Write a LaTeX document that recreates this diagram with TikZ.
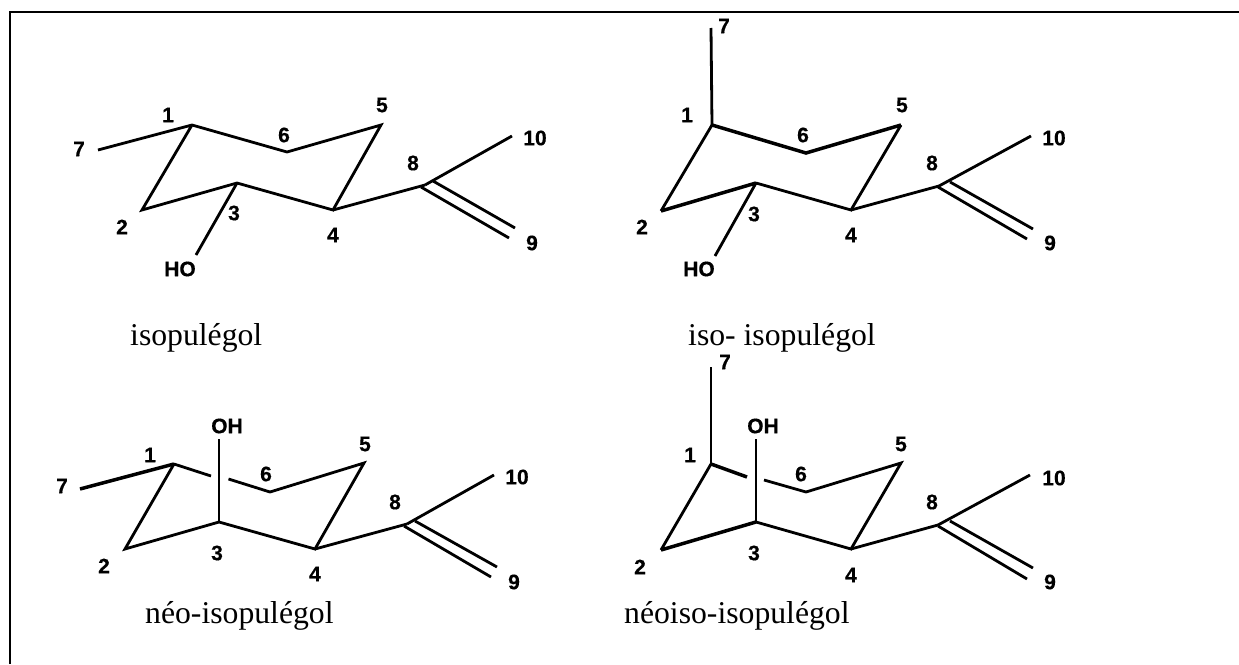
\documentclass[tikz,border=0pt]{standalone}
\usepackage{fontspec}
\setmainfont{Liberation Serif}
\newfontfamily\labelfont{Liberation Sans}[BoldFont={Liberation Sans Bold},BoldFeatures={FakeBold=0.5}]
\begin{document}
\begin{tikzpicture}[x=1pt,y=-1pt,
  bond/.style={line width=2.8pt,line cap=butt,line join=miter},
  heavy/.style={line width=3.5pt,line cap=butt,line join=miter},
  frameline/.style={line width=2.6pt,line cap=butt,line join=miter},
  atom/.style={inner sep=0pt,font=\labelfont\bfseries\fontsize{21}{21}\selectfont},
  caption/.style={inner sep=0pt,anchor=base west,font=\fontsize{31.7}{32}\selectfont}]
\useasboundingbox (0,0) rectangle (1239,664);
% frame
\coordinate (fa) at (10,664);
\coordinate (fb) at (10,12);
\coordinate (fc) at (1239,12);
\draw[frameline] (fa) -- (fb) -- (fc);
% ---- isopulegol
\foreach \n/\x/\y in {a1/192/125,a2/142/210,a3/237/183,a4/333/210,a5/381/125,a6/287/152,a7/98/150,aho/196/255,a8/425/185,a10/512/136,au/433/181,aue/515/228,al/421/187,ale/509/238}
  \coordinate (\n) at (\x,\y);
\draw[bond] (a7) -- (a1) -- (a6) -- (a5) -- (a4) -- (a3) -- (a2) -- (a1);
\draw[bond] (a3) -- (aho);
\draw[bond] (a4) -- (a8);
\draw[bond] (a8) -- (a10);
\draw[bond] (au) -- (aue);
\draw[bond] (al) -- (ale);
\node[atom] (la1) at (168,115) {1};
\node[atom] (la2) at (122,227) {2};
\node[atom] (la3) at (234,213) {3};
\node[atom] (la4) at (333,235) {4};
\node[atom] (la5) at (382,105) {5};
\node[atom] (la6) at (284,135) {6};
\node[atom] (la7) at (79,149) {7};
\node[atom] (la8) at (413,163) {8};
\node[atom] (la9) at (532,243) {9};
\node[atom] (la10) at (535,138) {10};
\node[atom] (laho) at (180,269) {HO};
\node[caption] (capa) at (130,345) {isopulégol};
% ---- iso-isopulegol
\foreach \n/\x/\y in {b1/712/125,b2/661/211,b3/756/183,b4/851/210,b5/901/125,b6/806/153,b7/711/28,bho/715/256,b8/939/186,b10/1031/136,bu/950/182,bue/1033/229,bl/938/187,ble/1027/239}
  \coordinate (\n) at (\x,\y);
\draw[bond] (b7) -- (b1);
\draw[heavy] (b1) -- (b6) -- (b5);
\draw[bond] (b5) -- (b4) -- (b3);
\draw[heavy] (b3) -- (b2);
\draw[bond] (b2) -- (b1);
\draw[bond] (b3) -- (bho);
\draw[bond] (b4) -- (b8);
\draw[bond] (b8) -- (b10);
\draw[bond] (bu) -- (bue);
\draw[bond] (bl) -- (ble);
\node[atom] (lb1) at (687,115) {1};
\node[atom] (lb2) at (642,227) {2};
\node[atom] (lb3) at (754,214) {3};
\node[atom] (lb4) at (851,235) {4};
\node[atom] (lb5) at (902,105) {5};
\node[atom] (lb6) at (803,135) {6};
\node[atom] (lb7) at (724,26) {7};
\node[atom] (lb8) at (932,163) {8};
\node[atom] (lb9) at (1050,243) {9};
\node[atom] (lb10) at (1054,138) {10};
\node[atom] (lbho) at (699,269) {HO};
\node[caption] (capb) at (688,345) {iso- isopulégol};
% ---- neo-isopulegol
\foreach \n/\x/\y in {c1/174/464,c2/125/549,c3/219/522,c4/315/549,c5/364/463,c6/270/492,c7/80/489,cho/219/439,cs/211/476,ct/228.5/479,c8/407/524,c10/494/475,cu/415/521,cue/497/567,cl/404/526,cle/491/577}
  \coordinate (\n) at (\x,\y);
\draw[heavy] (c7) -- (c1);
\draw[bond] (c1) -- (cs);
\draw[bond] (ct) -- (c6) -- (c5) -- (c4) -- (c3) -- (c2) -- (c1);
\draw[bond] (c3) -- (cho);
\draw[bond] (c4) -- (c8);
\draw[bond] (c8) -- (c10);
\draw[bond] (cu) -- (cue);
\draw[bond] (cl) -- (cle);
\node[atom] (lc1) at (150,455) {1};
\node[atom] (lc2) at (104,566) {2};
\node[atom] (lc3) at (217,553) {3};
\node[atom] (lc4) at (315,574) {4};
\node[atom] (lc5) at (365,444) {5};
\node[atom] (lc6) at (266,474) {6};
\node[atom] (lc7) at (62,486) {7};
\node[atom] (lc8) at (395,502) {8};
\node[atom] (lc9) at (514,582) {9};
\node[atom] (lc10) at (517,477) {10};
\node[atom] (lcho) at (227,426) {OH};
\node[caption] (capc) at (145,623) {néo-isopulégol};
% ---- neoiso-isopulegol
\foreach \n/\x/\y in {d1/711/464,d2/661/550,d3/756/522,d4/851/549,d5/901/463,d6/806/492,d7/711/367,dho/756/439,ds/747/477,dt/764/480,d8/938/525,d10/1030/475,du/950/521,due/1033/568,dl/938/526,dle/1027/579}
  \coordinate (\n) at (\x,\y);
\draw[bond] (d7) -- (d1);
\draw[heavy] (d1) -- (ds);
\draw[bond] (dt) -- (d6) -- (d5) -- (d4) -- (d3);
\draw[heavy] (d3) -- (d2);
\draw[bond] (d2) -- (d1);
\draw[bond] (d3) -- (dho);
\draw[bond] (d4) -- (d8);
\draw[bond] (d8) -- (d10);
\draw[bond] (du) -- (due);
\draw[bond] (dl) -- (dle);
\node[atom] (ld1) at (690,455) {1};
\node[atom] (ld2) at (640,567) {2};
\node[atom] (ld3) at (754,553) {3};
\node[atom] (ld4) at (851,575) {4};
\node[atom] (ld5) at (901,444) {5};
\node[atom] (ld6) at (801,474) {6};
\node[atom] (ld7) at (725,362) {7};
\node[atom] (ld8) at (932,502) {8};
\node[atom] (ld9) at (1050,582) {9};
\node[atom] (ld10) at (1054,478) {10};
\node[atom] (ldho) at (763,426) {OH};
\node[caption] (capd) at (624,623) {néoiso-isopulégol};
\end{tikzpicture}
\end{document}
